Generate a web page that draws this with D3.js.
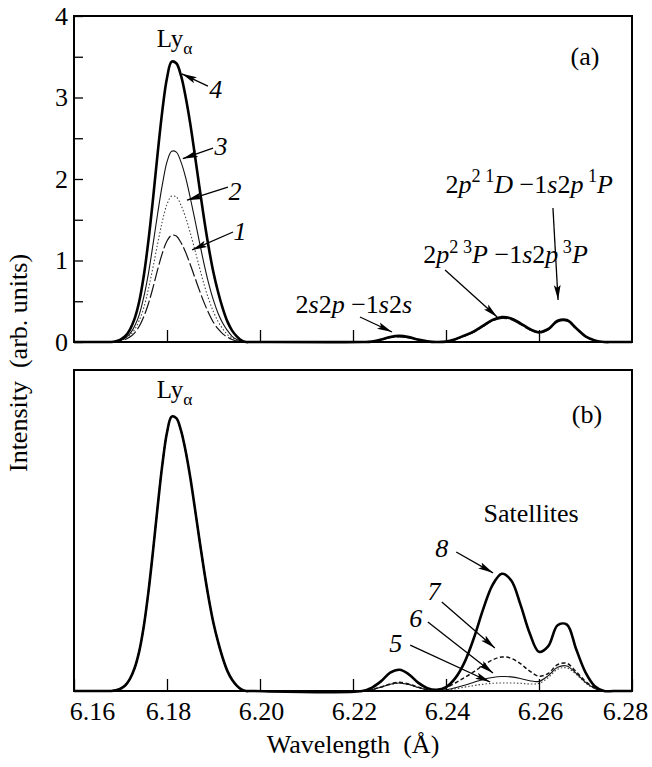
<!DOCTYPE html>
<html>
<head>
<meta charset="utf-8">
<script src="https://cdn.jsdelivr.net/npm/d3@7"></script>
<style>
	body { margin: 0; background: #fff; }
	svg { display: block; }
	text { white-space: pre; font-family: "Liberation Serif", "DejaVu Serif", serif; }
</style>
</head>
<body>
<main></main>
<script>
// wavelength grids (Å)
const lyWavelengths = [6.166, 6.167, 6.168, 6.169, 6.170, 6.171, 6.172, 6.173, 6.174, 6.175, 6.176, 6.177, 6.178, 6.179, 6.180, 6.181,
	6.182, 6.183, 6.184, 6.185, 6.186, 6.187, 6.188, 6.189, 6.190, 6.191, 6.192, 6.193, 6.194, 6.195, 6.196, 6.197, 6.198];
const satWavelengths = [6.222, 6.224, 6.226, 6.228, 6.230, 6.232, 6.234, 6.236, 6.238, 6.240, 6.242, 6.244, 6.246, 6.248,
	6.250, 6.252, 6.254, 6.256, 6.258, 6.260, 6.262, 6.264, 6.266, 6.268, 6.270, 6.272, 6.274, 6.276];

// panel (a), curves 1-4
const lyA1 = [0, 0, 0, 0, 0.01, 0.03, 0.06, 0.11, 0.19, 0.31, 0.47, 0.67, 0.89, 1.09, 1.24, 1.31,
	1.30, 1.22, 1.10, 0.95, 0.79, 0.63, 0.48, 0.35, 0.24, 0.16, 0.10, 0.06, 0.03, 0.01, 0, 0, 0];
const lyA2 = [0, 0, 0, 0.01, 0.02, 0.04, 0.08, 0.15, 0.26, 0.42, 0.65, 0.92, 1.21, 1.48, 1.69, 1.79,
	1.78, 1.68, 1.53, 1.34, 1.13, 0.91, 0.70, 0.52, 0.37, 0.25, 0.16, 0.09, 0.05, 0.02, 0.01, 0, 0];
const lyA3 = [0, 0, 0, 0.01, 0.02, 0.05, 0.10, 0.19, 0.33, 0.55, 0.84, 1.20, 1.58, 1.93, 2.21, 2.34,
	2.33, 2.21, 2.02, 1.77, 1.50, 1.22, 0.95, 0.71, 0.51, 0.35, 0.23, 0.14, 0.07, 0.03, 0.01, 0, 0];
const lyA4 = [0, 0, 0, 0.01, 0.03, 0.07, 0.15, 0.28, 0.49, 0.81, 1.24, 1.76, 2.32, 2.84, 3.24, 3.44,
	3.42, 3.27, 3.01, 2.68, 2.29, 1.89, 1.50, 1.15, 0.85, 0.61, 0.41, 0.25, 0.14, 0.07, 0.02, 0, 0];
const satA1 = [0, 0.004, 0.025, 0.052, 0.064, 0.05, 0.025, 0.006, 0, 0.004, 0.028, 0.07, 0.12, 0.19, 0.26, 0.29,
	0.275, 0.215, 0.148, 0.11, 0.148, 0.245, 0.255, 0.158, 0.064, 0.018, 0, 0];
const satA2 = [0, 0.004, 0.026, 0.055, 0.067, 0.053, 0.026, 0.007, 0, 0.004, 0.03, 0.073, 0.123, 0.193, 0.263, 0.295,
	0.28, 0.22, 0.15, 0.112, 0.15, 0.25, 0.26, 0.16, 0.065, 0.018, 0, 0];
const satA3 = [0, 0.005, 0.028, 0.058, 0.07, 0.056, 0.028, 0.007, 0, 0.005, 0.033, 0.077, 0.127, 0.197, 0.267, 0.3,
	0.285, 0.225, 0.155, 0.115, 0.155, 0.255, 0.265, 0.165, 0.068, 0.02, 0, 0];
const satA4 = [0, 0.005, 0.03, 0.062, 0.075, 0.06, 0.03, 0.008, 0, 0.005, 0.035, 0.08, 0.13, 0.2, 0.27, 0.305,
	0.29, 0.23, 0.16, 0.12, 0.16, 0.26, 0.27, 0.17, 0.07, 0.02, 0, 0];

// panel (b), curves 5-8 (same Ly-alpha line, different satellites)
const lyB = [0, 0, 0, 0.002, 0.007, 0.017, 0.037, 0.07, 0.122, 0.201, 0.308, 0.437, 0.576, 0.705, 0.805, 0.855,
	0.850, 0.812, 0.748, 0.666, 0.569, 0.469, 0.373, 0.286, 0.211, 0.152, 0.102, 0.062, 0.035, 0.017, 0.005, 0, 0];
const satB5 = [0, 0.004, 0.012, 0.02, 0.024, 0.02, 0.011, 0.004, 0.001, 0.003, 0.007, 0.012, 0.017, 0.021,
	0.024, 0.025, 0.025, 0.024, 0.022, 0.024, 0.042, 0.068, 0.072, 0.052, 0.025, 0.007, 0, 0];
const satB6 = [0, 0.004, 0.012, 0.021, 0.025, 0.02, 0.011, 0.004, 0.001, 0.004, 0.01, 0.018, 0.027, 0.036,
	0.042, 0.045, 0.044, 0.039, 0.032, 0.03, 0.048, 0.074, 0.078, 0.055, 0.027, 0.008, 0, 0];
const satB7 = [0, 0.004, 0.012, 0.022, 0.027, 0.022, 0.012, 0.004, 0.002, 0.01, 0.025, 0.042, 0.06, 0.08,
	0.097, 0.106, 0.102, 0.085, 0.062, 0.046, 0.055, 0.082, 0.086, 0.06, 0.03, 0.01, 0, 0];
const satB8 = [0, 0.01, 0.03, 0.057, 0.066, 0.052, 0.026, 0.009, 0.004, 0.012, 0.04, 0.09, 0.165, 0.255,
	0.33, 0.365, 0.345, 0.27, 0.18, 0.122, 0.14, 0.205, 0.207, 0.13, 0.058, 0.015, 0, 0];

const xTicks = [6.16, 6.18, 6.20, 6.22, 6.24, 6.26, 6.28];
const yTicksA = [0, 0.5, 1, 1.5, 2, 2.5, 3, 3.5, 4];

const serif = "Liberation Serif, DejaVu Serif, serif";

function drawChart() {
	const dimensions = {
		width: 652,
		height: 767,
		left: 74,
		right: 632,
		aTop: 16,
		aBottom: 342,
		bTop: 370,
		bBottom: 691,
	};

	const svg = d3.select("main")
		.append("svg")
		.attr("width", dimensions.width)
		.attr("height", dimensions.height)
		.attr("font-family", serif);

	svg.append("defs").append("marker")
		.attr("id", "head")
		.attr("markerUnits", "userSpaceOnUse")
		.attr("markerWidth", 16)
		.attr("markerHeight", 8)
		.attr("refX", 15)
		.attr("refY", 4)
		.attr("orient", "auto")
		.append("path")
		.attr("d", "M0,0.6 L15,4 L0,7.4 L3,4 Z")
		.attr("fill", "#000");

	const xScale = d3.scaleLinear().domain([6.16, 6.28]).range([dimensions.left, dimensions.right]);
	const yScaleA = d3.scaleLinear().domain([0, 4]).range([dimensions.aBottom, dimensions.aTop]);
	const yScaleB = d3.scaleLinear().domain([0, 1]).range([dimensions.bBottom, dimensions.bTop]);

	const series = (ly, sat) => [[6.16, 0]]
		.concat(lyWavelengths.map((w, i) => [w, ly[i]]))
		.concat(satWavelengths.map((w, i) => [w, sat[i]]))
		.concat([[6.28, 0]]);

	const lineA = d3.line().x(d => xScale(d[0])).y(d => yScaleA(d[1])).curve(d3.curveCatmullRom.alpha(0.5));
	const lineB = d3.line().x(d => xScale(d[0])).y(d => yScaleB(d[1])).curve(d3.curveCatmullRom.alpha(0.5));

	const curvesA = [
		{ data: series(lyA1, satA1), width: 1.2, dash: "14,3", color: "#111" },
		{ data: series(lyA2, satA2), width: 1.1, dash: "1.5,2", color: "#444" },
		{ data: series(lyA3, satA3), width: 1.1, dash: null, color: "#111" },
		{ data: series(lyA4, satA4), width: 2.6, dash: null, color: "#000" },
	];
	const curvesB = [
		{ data: series(lyB, satB5), width: 1.1, dash: "1.5,2", color: "#444" },
		{ data: series(lyB, satB6), width: 1.1, dash: null, color: "#111" },
		{ data: series(lyB, satB7), width: 1.5, dash: "4,2.5", color: "#111" },
		{ data: series(lyB, satB8), width: 2.6, dash: null, color: "#000" },
	];

	const panelA = svg.append("g");
	const panelB = svg.append("g");

	panelA.selectAll("path.curve")
		.data(curvesA)
		.enter()
		.append("path")
		.attr("class", "curve")
		.attr("d", d => lineA(d.data))
		.attr("fill", "none")
		.attr("stroke", d => d.color)
		.attr("stroke-width", d => d.width)
		.attr("stroke-dasharray", d => d.dash)
		.attr("stroke-linejoin", "round");

	panelB.selectAll("path.curve")
		.data(curvesB)
		.enter()
		.append("path")
		.attr("class", "curve")
		.attr("d", d => lineB(d.data))
		.attr("fill", "none")
		.attr("stroke", d => d.color)
		.attr("stroke-width", d => d.width)
		.attr("stroke-dasharray", d => d.dash)
		.attr("stroke-linejoin", "round");

	// inward ticks
	const xAxisA = d3.axisBottom(xScale)
		.tickValues(xTicks.slice(1, -1))
		.tickSize(-12)
		.tickFormat("");
	panelA.append("g")
		.attr("transform", `translate(0,${dimensions.aBottom})`)
		.call(xAxisA)
		.call(g => g.select(".domain").remove())
		.selectAll("line").attr("stroke-width", 1.3);

	const yAxisA = d3.axisLeft(yScaleA)
		.tickValues(yTicksA)
		.tickSize(-9)
		.tickPadding(6)
		.tickFormat(d => Number.isInteger(d) ? d : "");
	const yAxisGroup = panelA.append("g")
		.attr("transform", `translate(${dimensions.left},0)`)
		.call(yAxisA)
		.attr("font-family", serif)
		.call(g => g.select(".domain").remove());
	yAxisGroup.selectAll("line").attr("stroke-width", 1.3);
	yAxisGroup.selectAll("text")
		.style("font-size", "26px")
		.attr("fill", "#000");

	const xAxisB = d3.axisBottom(xScale)
		.tickValues(xTicks)
		.tickSize(-12)
		.tickPadding(11)
		.tickFormat(d3.format(".2f"));
	const xAxisGroup = panelB.append("g")
		.attr("transform", `translate(0,${dimensions.bBottom})`)
		.call(xAxisB)
		.attr("font-family", serif)
		.call(g => g.select(".domain").remove());
	xAxisGroup.selectAll("line").attr("stroke-width", 1.3);
	xAxisGroup.selectAll("text")
		.style("font-size", "26px")
		.attr("fill", "#000")
		.attr("dx", (d, i) => i === 0 ? 18 : (i === xTicks.length - 1 ? -7 : 1));

	// frames
	[[dimensions.aTop, dimensions.aBottom], [dimensions.bTop, dimensions.bBottom]].forEach(([t, b]) => {
		svg.append("rect")
			.attr("x", dimensions.left)
			.attr("y", t)
			.attr("width", dimensions.right - dimensions.left)
			.attr("height", b - t)
			.attr("fill", "none")
			.attr("stroke", "#000")
			.attr("stroke-width", 2);
	});

	// axis titles
	svg.append("text")
		.attr("x", (dimensions.left + dimensions.right) / 2)
		.attr("y", 753)
		.attr("text-anchor", "middle")
		.style("font-size", "26px")
		.text("Wavelength  (Å)");

	svg.append("text")
		.attr("transform", "translate(27,363) rotate(-90)")
		.attr("text-anchor", "middle")
		.style("font-size", "26px")
		.text("Intensity  (arb. units)");

	// rich text helper: parts of [string, kind], kind = "", "i", "sup", "sub"
	function richLabel(g, x, y, parts, anchor, size) {
		const t = g.append("text")
			.attr("x", x)
			.attr("y", y)
			.attr("text-anchor", anchor)
			.style("font-size", size + "px");
		let shift = 0;
		parts.forEach(([s, kind]) => {
			const target = kind === "sup" ? -0.4 * size : kind === "sub" ? 0.28 * size : 0;
			t.append("tspan")
				.attr("dy", target - shift)
				.style("font-size", (kind === "sup" || kind === "sub") ? (0.7 * size) + "px" : null)
				.style("font-style", kind === "i" ? "italic" : null)
				.text(s);
			shift = target;
		});
		return t;
	}

	function arrow(g, yScale, from, to) {
		g.append("line")
			.attr("x1", xScale(from[0]))
			.attr("y1", yScale(from[1]))
			.attr("x2", xScale(to[0]))
			.attr("y2", yScale(to[1]))
			.attr("stroke", "#000")
			.attr("stroke-width", 1.3)
			.attr("marker-end", "url(#head)");
	}

	// panel (a) annotations
	richLabel(panelA, xScale(6.1778), yScaleA(3.62), [["Ly", ""], ["α", "sub"]], "start", 25);
	richLabel(panelA, xScale(6.2699), yScaleA(3.40), [["(a)", ""]], "middle", 26);

	const numbersA = [
		{ label: "4", at: [6.1905, 3.00], from: [6.1888, 3.14], to: [6.1832, 3.29] },
		{ label: "3", at: [6.1916, 2.30], from: [6.1899, 2.38], to: [6.1834, 2.25] },
		{ label: "2", at: [6.1946, 1.74], from: [6.1931, 1.90], to: [6.1843, 1.74] },
		{ label: "1", at: [6.1957, 1.25], from: [6.1942, 1.35], to: [6.1854, 1.13] },
	];
	numbersA.forEach(n => {
		richLabel(panelA, xScale(n.at[0]), yScaleA(n.at[1]), [[n.label, "i"]], "middle", 26);
		arrow(panelA, yScaleA, n.from, n.to);
	});

	richLabel(panelA, xScale(6.2327), yScaleA(0.356),
		[["2", ""], ["s", "i"], ["2", ""], ["p", "i"], [" \u22121", ""], ["s", "i"], ["2", ""], ["s", "i"]], "end", 26);
	arrow(panelA, yScaleA, [6.2215, 0.307], [6.2284, 0.123]);

	richLabel(panelA, xScale(6.2705), yScaleA(0.97),
		[["2", ""], ["p", "i"], ["2 3", "sup"], ["P", "i"], [" \u22121", ""], ["s", "i"], ["2", ""], ["p", "i"], [" 3", "sup"], ["P", "i"]], "end", 26);
	arrow(panelA, yScaleA, [6.2398, 0.883], [6.2510, 0.307]);

	richLabel(panelA, xScale(6.2759), yScaleA(1.83),
		[["2", ""], ["p", "i"], ["2 1", "sup"], ["D", "i"], [" \u22121", ""], ["s", "i"], ["2", ""], ["p", "i"], [" 1", "sup"], ["P", "i"]], "end", 26);
	arrow(panelA, yScaleA, [6.2630, 1.644], [6.2641, 0.515]);

	// panel (b) annotations
	richLabel(panelB, xScale(6.1778), yScaleB(0.913), [["Ly", ""], ["α", "sub"]], "start", 25);
	richLabel(panelB, xScale(6.2703), yScaleB(0.835), [["(b)", ""]], "middle", 26);
	richLabel(panelB, xScale(6.2583), yScaleB(0.526), [["Satellites", ""]], "middle", 26);

	const numbersB = [
		{ label: "8", at: [6.2391, 0.417], from: [6.2422, 0.433], to: [6.2501, 0.368] },
		{ label: "7", at: [6.2374, 0.283], from: [6.2391, 0.277], to: [6.2505, 0.134] },
		{ label: "6", at: [6.2335, 0.199], from: [6.2361, 0.215], to: [6.2501, 0.056] },
		{ label: "5", at: [6.2292, 0.121], from: [6.2323, 0.143], to: [6.2495, 0.028] },
	];
	numbersB.forEach(n => {
		richLabel(panelB, xScale(n.at[0]), yScaleB(n.at[1]), [[n.label, "i"]], "middle", 26);
		arrow(panelB, yScaleB, n.from, n.to);
	});
}
drawChart();
</script>
</body>
</html>
